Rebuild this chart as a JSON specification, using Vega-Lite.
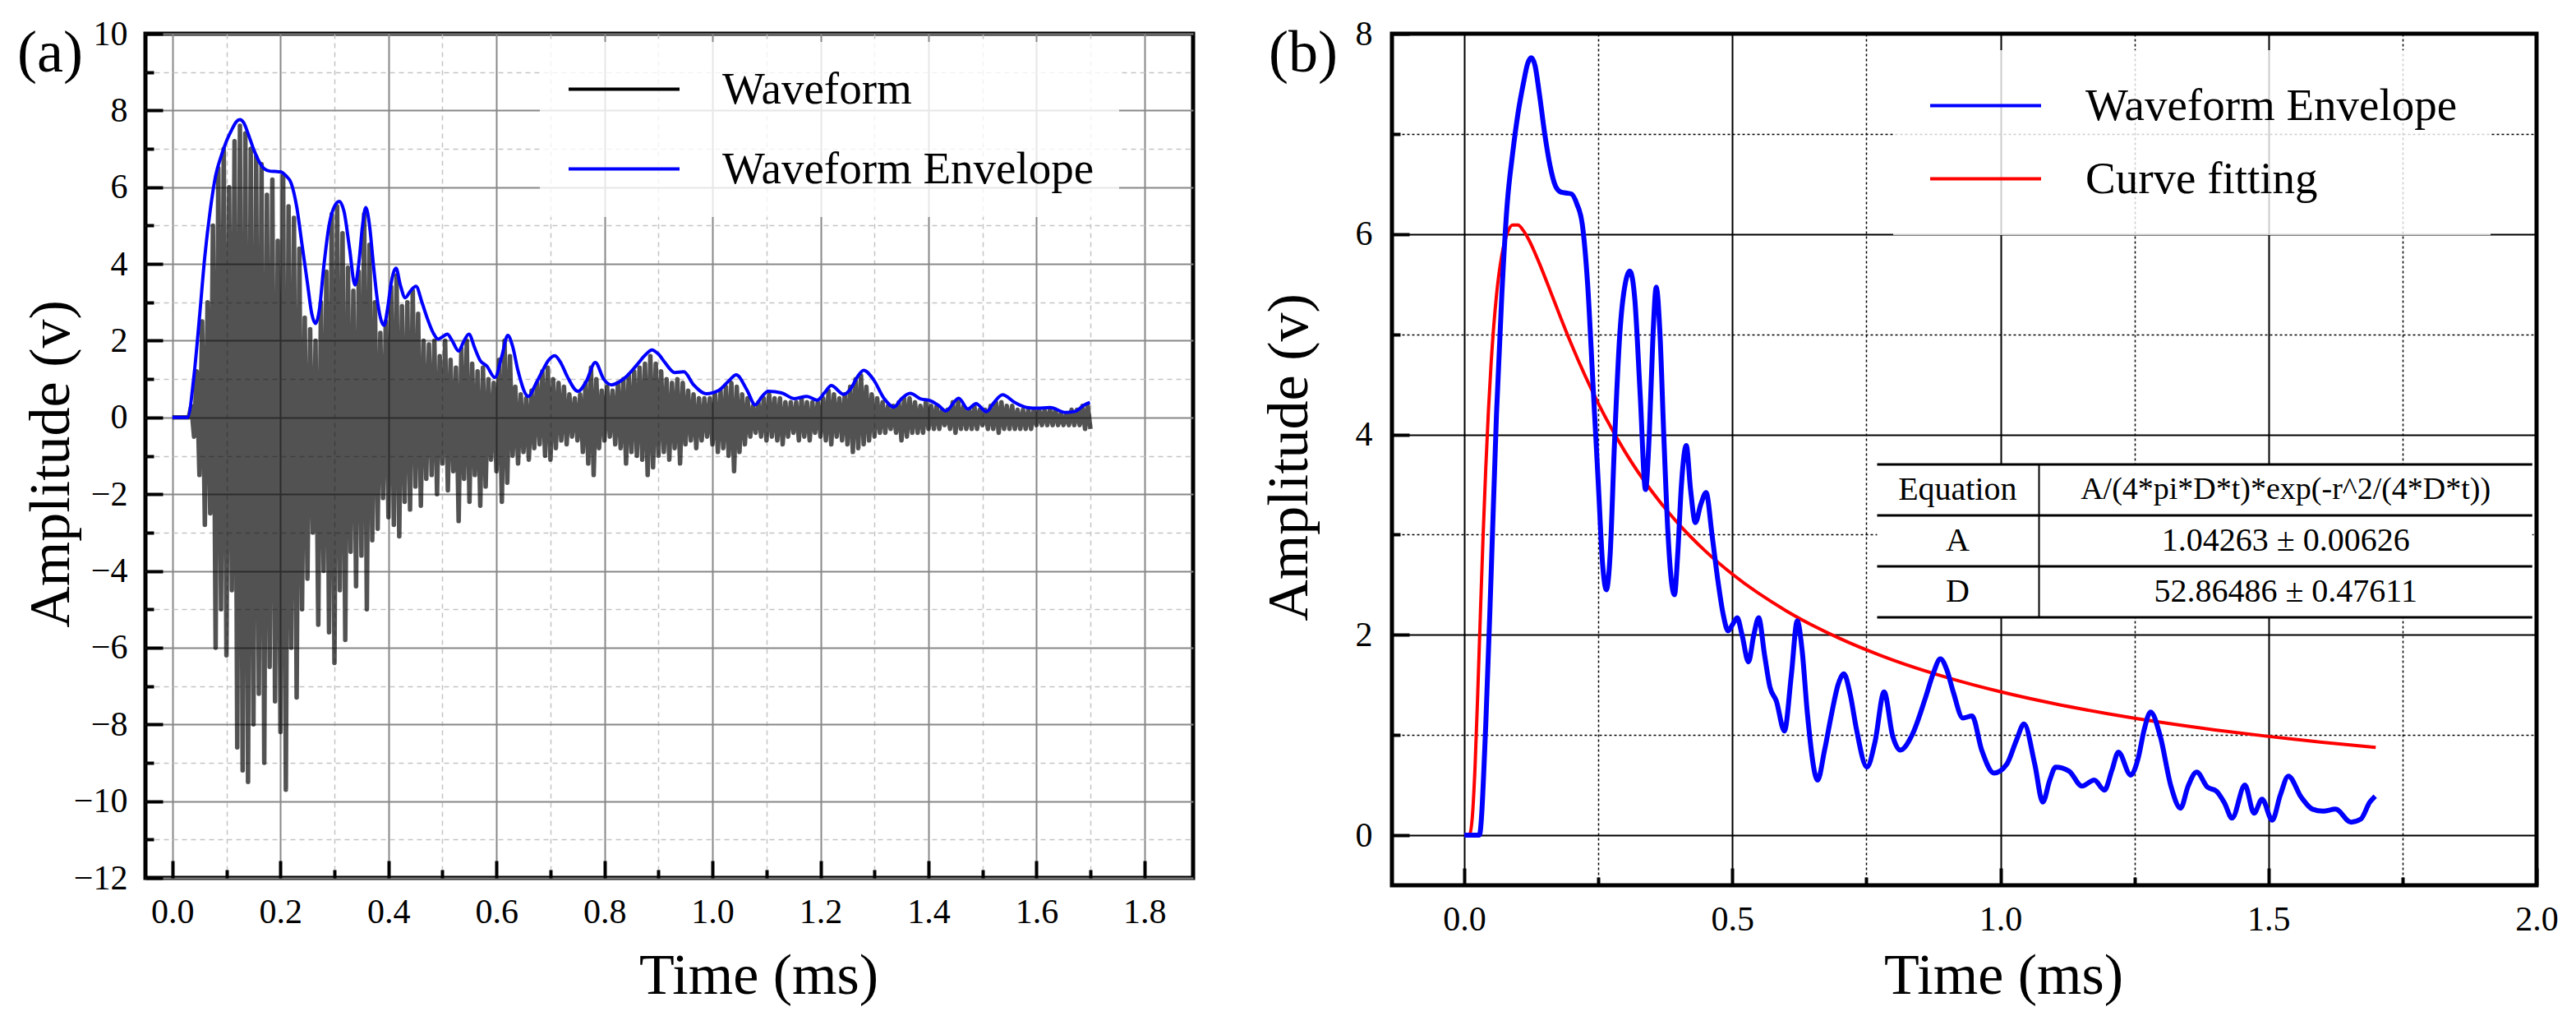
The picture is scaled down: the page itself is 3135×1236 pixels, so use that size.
{
"$schema": "https://vega.github.io/schema/vega-lite/v6.json",
"background": "white",
"padding": {"left": 18, "top": 17, "right": 20, "bottom": 20},
"config": {
  "view": {"stroke": "black", "strokeWidth": 5},
  "font": "Liberation Serif",
  "axis": {"labelFont": "Liberation Serif", "titleFont": "Liberation Serif", "labelColor": "black", "titleColor": "black", "titleFontWeight": "normal", "labelFlush": false, "labelOverlap": false, "domain": false, "tickColor": "black"},
  "legend": {"labelFont": "Liberation Serif", "labelColor": "black", "labelLimit": 0},
  "title": {"font": "Liberation Serif"}
},
"datasets": {
"wave": [
{"t":0,"v":0},{"t":0.03,"v":0},{"t":0.035,"v":0.3},{"t":0.04,"v":-0.5},{"t":0.045,"v":1.2},{"t":0.05,"v":-1.5},{"t":0.055,"v":2.5},{"t":0.06,"v":-2.8},{"t":0.065,"v":3.0},{"t":0.07,"v":-2.5},{"t":0.075,"v":5.0},{"t":0.08,"v":-6.0},{"t":0.085,"v":6.5},{"t":0.09,"v":-5.0},{"t":0.095,"v":7.0},{"t":0.1,"v":-6.2},{"t":0.105,"v":6.0},{"t":0.11,"v":-4.5},{"t":0.115,"v":7.2},{"t":0.12,"v":-8.6},{"t":0.125,"v":7.6},{"t":0.13,"v":-9.2},{"t":0.135,"v":7.4},{"t":0.14,"v":-9.5},{"t":0.145,"v":7.0},{"t":0.15,"v":-8.0},{"t":0.155,"v":6.8},{"t":0.16,"v":-7.2},{"t":0.165,"v":6.6},{"t":0.17,"v":-9.0},{"t":0.175,"v":5.8},{"t":0.18,"v":-6.5},{"t":0.185,"v":6.2},{"t":0.19,"v":-7.4},{"t":0.195,"v":4.6},{"t":0.2,"v":-8.2},{"t":0.205,"v":6.3},{"t":0.21,"v":-9.7},{"t":0.215,"v":5.5},{"t":0.22,"v":-6.0},{"t":0.225,"v":5.2},{"t":0.23,"v":-7.3},{"t":0.235,"v":4.4},{"t":0.24,"v":-5.0},{"t":0.245,"v":2.6},{"t":0.25,"v":-4.2},{"t":0.255,"v":2.3},{"t":0.26,"v":-3.0},{"t":0.265,"v":2.0},{"t":0.27,"v":-5.4},{"t":0.275,"v":3.0},{"t":0.28,"v":-4.0},{"t":0.285,"v":3.8},{"t":0.29,"v":-5.6},{"t":0.295,"v":5.3},{"t":0.3,"v":-6.4},{"t":0.305,"v":5.5},{"t":0.31,"v":-4.5},{"t":0.315,"v":4.8},{"t":0.32,"v":-5.8},{"t":0.325,"v":3.9},{"t":0.33,"v":-3.5},{"t":0.335,"v":3.3},{"t":0.34,"v":-4.4},{"t":0.345,"v":3.8},{"t":0.35,"v":-3.6},{"t":0.355,"v":5.3},{"t":0.36,"v":-5.0},{"t":0.365,"v":4.5},{"t":0.37,"v":-3.2},{"t":0.375,"v":3.0},{"t":0.38,"v":-2.9},{"t":0.385,"v":2.2},{"t":0.39,"v":-2.1},{"t":0.395,"v":2.5},{"t":0.4,"v":-2.6},{"t":0.405,"v":3.4},{"t":0.41,"v":-2.8},{"t":0.415,"v":3.7},{"t":0.42,"v":-3.1},{"t":0.425,"v":2.9},{"t":0.43,"v":-2.2},{"t":0.435,"v":3.0},{"t":0.44,"v":-2.4},{"t":0.445,"v":3.3},{"t":0.45,"v":-1.8},{"t":0.455,"v":2.7},{"t":0.46,"v":-2.3},{"t":0.465,"v":2.0},{"t":0.47,"v":-1.6},{"t":0.475,"v":1.9},{"t":0.48,"v":-1.5},{"t":0.485,"v":2.0},{"t":0.49,"v":-2.0},{"t":0.495,"v":1.6},{"t":0.5,"v":-1.2},
{"t":0.505,"v":2.0},{"t":0.51,"v":-1.9},{"t":0.515,"v":1.5},{"t":0.52,"v":-1.4},{"t":0.525,"v":1.3},{"t":0.53,"v":-2.7},{"t":0.535,"v":1.8},{"t":0.54,"v":-1.6},{"t":0.545,"v":2.0},{"t":0.55,"v":-2.2},{"t":0.555,"v":1.4},{"t":0.56,"v":-1.5},{"t":0.565,"v":1.2},{"t":0.57,"v":-2.3},{"t":0.575,"v":1.3},{"t":0.58,"v":-1.8},{"t":0.585,"v":1.0},{"t":0.59,"v":-1.1},{"t":0.595,"v":0.9},{"t":0.6,"v":-1.4},{"t":0.605,"v":1.5},{"t":0.61,"v":-2.2},{"t":0.615,"v":2.0},{"t":0.62,"v":-1.7},{"t":0.625,"v":1.6},{"t":0.63,"v":-1.0},{"t":0.635,"v":0.8},{"t":0.64,"v":-1.2},{"t":0.645,"v":0.6},{"t":0.65,"v":-0.9},{"t":0.655,"v":0.5},{"t":0.66,"v":-1.1},{"t":0.665,"v":0.7},{"t":0.67,"v":-0.8},{"t":0.675,"v":0.9},{"t":0.68,"v":-0.7},{"t":0.685,"v":1.2},{"t":0.69,"v":-1.0},{"t":0.695,"v":1.3},{"t":0.7,"v":-1.1},{"t":0.705,"v":1.0},{"t":0.71,"v":-0.8},{"t":0.715,"v":0.9},{"t":0.72,"v":-0.6},{"t":0.725,"v":0.8},{"t":0.73,"v":-0.7},{"t":0.735,"v":0.6},{"t":0.74,"v":-0.5},{"t":0.745,"v":0.5},{"t":0.75,"v":-0.6},{"t":0.755,"v":0.6},{"t":0.76,"v":-0.9},{"t":0.765,"v":0.9},{"t":0.77,"v":-1.2},{"t":0.775,"v":1.3},{"t":0.78,"v":-1.5},{"t":0.785,"v":1.0},{"t":0.79,"v":-0.8},{"t":0.795,"v":0.7},{"t":0.8,"v":-0.6},{"t":0.805,"v":0.8},{"t":0.81,"v":-0.5},{"t":0.815,"v":0.7},{"t":0.82,"v":-0.7},{"t":0.825,"v":0.9},{"t":0.83,"v":-0.8},{"t":0.835,"v":1.0},{"t":0.84,"v":-1.2},{"t":0.845,"v":1.1},{"t":0.85,"v":-0.9},{"t":0.855,"v":1.2},{"t":0.86,"v":-1.0},{"t":0.865,"v":1.3},{"t":0.87,"v":-1.1},{"t":0.875,"v":1.4},{"t":0.88,"v":-1.5},{"t":0.885,"v":1.6},{"t":0.89,"v":-1.3},{"t":0.895,"v":1.4},{"t":0.9,"v":-1.0},{"t":0.905,"v":1.2},{"t":0.91,"v":-0.9},{"t":0.915,"v":1.0},{"t":0.92,"v":-1.1},{"t":0.925,"v":0.9},{"t":0.93,"v":-0.8},{"t":0.935,"v":1.0},{"t":0.94,"v":-1.2},{"t":0.945,"v":0.9},{"t":0.95,"v":-0.7},{"t":0.955,"v":0.7},{"t":0.96,"v":-0.6},{"t":0.965,"v":0.6},{"t":0.97,"v":-0.8},{"t":0.975,"v":0.5},{"t":0.98,"v":-0.6},{"t":0.985,"v":0.5},{"t":0.99,"v":-0.5},{"t":0.995,"v":0.5},{"t":1.0,"v":-0.7},
{"t":1.005,"v":0.6},{"t":1.01,"v":-0.9},{"t":1.015,"v":0.7},{"t":1.02,"v":-0.8},{"t":1.025,"v":0.8},{"t":1.03,"v":-1.0},{"t":1.035,"v":0.9},{"t":1.04,"v":-1.4},{"t":1.045,"v":0.8},{"t":1.05,"v":-0.9},{"t":1.055,"v":0.6},{"t":1.06,"v":-0.7},{"t":1.065,"v":0.5},{"t":1.07,"v":-0.5},{"t":1.075,"v":0.3},{"t":1.08,"v":-0.4},{"t":1.085,"v":0.4},{"t":1.09,"v":-0.5},{"t":1.095,"v":0.5},{"t":1.1,"v":-0.6},{"t":1.105,"v":0.6},{"t":1.11,"v":-0.5},{"t":1.115,"v":0.5},{"t":1.12,"v":-0.6},{"t":1.125,"v":0.5},{"t":1.13,"v":-0.7},{"t":1.135,"v":0.4},{"t":1.14,"v":-0.5},{"t":1.145,"v":0.4},{"t":1.15,"v":-0.4},{"t":1.155,"v":0.4},{"t":1.16,"v":-0.6},{"t":1.165,"v":0.5},{"t":1.17,"v":-0.5},{"t":1.175,"v":0.4},{"t":1.18,"v":-0.6},{"t":1.185,"v":0.4},{"t":1.19,"v":-0.4},{"t":1.195,"v":0.4},{"t":1.2,"v":-0.5},{"t":1.205,"v":0.5},{"t":1.21,"v":-0.6},{"t":1.215,"v":0.7},{"t":1.22,"v":-0.7},{"t":1.225,"v":0.6},{"t":1.23,"v":-0.5},{"t":1.235,"v":0.5},{"t":1.24,"v":-0.6},{"t":1.245,"v":0.6},{"t":1.25,"v":-0.7},{"t":1.255,"v":0.8},{"t":1.26,"v":-0.9},{"t":1.265,"v":1.0},{"t":1.27,"v":-0.8},{"t":1.275,"v":1.1},{"t":1.28,"v":-0.7},{"t":1.285,"v":0.8},{"t":1.29,"v":-0.6},{"t":1.295,"v":0.6},{"t":1.3,"v":-0.5},{"t":1.305,"v":0.5},{"t":1.31,"v":-0.4},{"t":1.315,"v":0.4},{"t":1.32,"v":-0.4},{"t":1.325,"v":0.3},{"t":1.33,"v":-0.3},{"t":1.335,"v":0.3},{"t":1.34,"v":-0.4},{"t":1.345,"v":0.4},{"t":1.35,"v":-0.6},{"t":1.355,"v":0.5},{"t":1.36,"v":-0.5},{"t":1.365,"v":0.5},{"t":1.37,"v":-0.4},{"t":1.375,"v":0.4},{"t":1.38,"v":-0.4},{"t":1.385,"v":0.3},{"t":1.39,"v":-0.4},{"t":1.395,"v":0.4},{"t":1.4,"v":-0.3},{"t":1.405,"v":0.3},{"t":1.41,"v":-0.3},{"t":1.415,"v":0.3},{"t":1.42,"v":-0.3},{"t":1.425,"v":0.2},{"t":1.43,"v":-0.2},{"t":1.435,"v":0.2},{"t":1.44,"v":-0.3},{"t":1.445,"v":0.4},{"t":1.45,"v":-0.4},{"t":1.455,"v":0.4},{"t":1.46,"v":-0.3},{"t":1.465,"v":0.3},{"t":1.47,"v":-0.3},{"t":1.475,"v":0.2},{"t":1.48,"v":-0.3},{"t":1.485,"v":0.3},{"t":1.49,"v":-0.3},{"t":1.495,"v":0.2},{"t":1.5,"v":-0.2},{"t":1.505,"v":0.2},{"t":1.51,"v":-0.3},{"t":1.515,"v":0.3},{"t":1.52,"v":-0.3},{"t":1.525,"v":0.4},{"t":1.53,"v":-0.4},{"t":1.535,"v":0.4},{"t":1.54,"v":-0.3},{"t":1.545,"v":0.3},{"t":1.55,"v":-0.3},{"t":1.555,"v":0.3},{"t":1.56,"v":-0.3},{"t":1.565,"v":0.2},{"t":1.57,"v":-0.3},{"t":1.575,"v":0.2},{"t":1.58,"v":-0.3},{"t":1.585,"v":0.2},{"t":1.59,"v":-0.3},{"t":1.595,"v":0.2},{"t":1.6,"v":-0.2},{"t":1.605,"v":0.2},{"t":1.61,"v":-0.2},{"t":1.615,"v":0.2},{"t":1.62,"v":-0.2},{"t":1.625,"v":0.2},{"t":1.63,"v":-0.2},{"t":1.635,"v":0.2},{"t":1.64,"v":-0.2},{"t":1.645,"v":0.1},{"t":1.65,"v":-0.2},{"t":1.655,"v":0.1},{"t":1.66,"v":-0.2},{"t":1.665,"v":0.2},{"t":1.67,"v":-0.2},{"t":1.675,"v":0.2},{"t":1.68,"v":-0.2},{"t":1.685,"v":0.3},{"t":1.69,"v":-0.3},{"t":1.695,"v":0.3},{"t":1.7,"v":-0.3}
],
"env": [
{"t":0,"v":0},{"t":0.028,"v":0},{"t":0.04,"v":1.1},{"t":0.05,"v":2.6},{"t":0.06,"v":4.2},{"t":0.07,"v":5.4},{"t":0.08,"v":6.3},{"t":0.09,"v":6.8},{"t":0.1,"v":7.2},{"t":0.11,"v":7.5},{"t":0.118,"v":7.7},{"t":0.125,"v":7.76},{"t":0.132,"v":7.68},{"t":0.14,"v":7.4},{"t":0.15,"v":7.0},{"t":0.16,"v":6.68},{"t":0.17,"v":6.48},{"t":0.18,"v":6.42},{"t":0.19,"v":6.41},{"t":0.2,"v":6.4},{"t":0.21,"v":6.3},{"t":0.22,"v":6.1},{"t":0.23,"v":5.5},{"t":0.24,"v":4.5},{"t":0.25,"v":3.5},{"t":0.258,"v":2.7},{"t":0.265,"v":2.45},{"t":0.272,"v":2.8},{"t":0.28,"v":3.9},{"t":0.29,"v":5.0},{"t":0.3,"v":5.5},{"t":0.309,"v":5.63},{"t":0.318,"v":5.35},{"t":0.328,"v":4.4},{"t":0.338,"v":3.45},{"t":0.345,"v":4.0},{"t":0.352,"v":5.0},{"t":0.358,"v":5.47},{"t":0.365,"v":5.0},{"t":0.372,"v":4.0},{"t":0.38,"v":3.0},{"t":0.386,"v":2.55},{"t":0.392,"v":2.4},{"t":0.398,"v":2.8},{"t":0.405,"v":3.5},{"t":0.414,"v":3.89},{"t":0.422,"v":3.45},{"t":0.431,"v":3.12},{"t":0.441,"v":3.3},{"t":0.451,"v":3.42},{"t":0.462,"v":3.0},{"t":0.472,"v":2.58},{"t":0.483,"v":2.2},{"t":0.492,"v":2.04},{"t":0.5,"v":2.1},{"t":0.509,"v":2.17},{"t":0.518,"v":2.0},{"t":0.53,"v":1.73},{"t":0.54,"v":2.0},{"t":0.549,"v":2.17},{"t":0.56,"v":1.8},{"t":0.57,"v":1.48},{"t":0.582,"v":1.34},{"t":0.597,"v":1.04},{"t":0.61,"v":1.6},{"t":0.621,"v":2.14},{"t":0.63,"v":1.85},{"t":0.64,"v":1.21},{"t":0.659,"v":0.55},{"t":0.672,"v":0.85},{"t":0.685,"v":1.21},{"t":0.697,"v":1.5},{"t":0.708,"v":1.61},{"t":0.72,"v":1.4},{"t":0.731,"v":1.07},{"t":0.751,"v":0.68},{"t":0.766,"v":0.93},{"t":0.783,"v":1.43},{"t":0.799,"v":0.99},{"t":0.813,"v":0.85},{"t":0.836,"v":1.01},{"t":0.86,"v":1.37},{"t":0.875,"v":1.62},{"t":0.888,"v":1.76},{"t":0.9,"v":1.65},{"t":0.912,"v":1.43},{"t":0.93,"v":1.17},{"t":0.947,"v":1.19},{"t":0.965,"v":0.85},{"t":0.988,"v":0.62},{"t":1.012,"v":0.71},{"t":1.03,"v":0.95},{"t":1.044,"v":1.11},{"t":1.064,"v":0.71},{"t":1.079,"v":0.33},{"t":1.092,"v":0.55},{"t":1.103,"v":0.68},{"t":1.128,"v":0.64},{"t":1.152,"v":0.49},{"t":1.175,"v":0.55},{"t":1.194,"v":0.45},{"t":1.208,"v":0.65},{"t":1.22,"v":0.83},{"t":1.243,"v":0.6},{"t":1.257,"v":0.77},{"t":1.268,"v":1.05},{"t":1.28,"v":1.23},{"t":1.298,"v":0.99},{"t":1.318,"v":0.49},{"t":1.336,"v":0.27},{"t":1.35,"v":0.49},{"t":1.366,"v":0.63},{"t":1.386,"v":0.48},{"t":1.403,"v":0.44},{"t":1.418,"v":0.32},{"t":1.432,"v":0.17},{"t":1.456,"v":0.5},{"t":1.473,"v":0.22},{"t":1.488,"v":0.36},{"t":1.507,"v":0.15},{"t":1.522,"v":0.4},{"t":1.537,"v":0.59},{"t":1.561,"v":0.38},{"t":1.582,"v":0.26},{"t":1.602,"v":0.24},{"t":1.625,"v":0.26},{"t":1.654,"v":0.13},{"t":1.672,"v":0.16},{"t":1.689,"v":0.33},{"t":1.699,"v":0.39}
],
"fit": [
{"t":0,"v":0},{"t":0.005,"v":0},{"t":0.01,"v":0.012},{"t":0.015,"v":0.187},{"t":0.02,"v":0.681},{"t":0.025,"v":1.409},{"t":0.03,"v":2.213},{"t":0.035,"v":2.982},{"t":0.04,"v":3.662},{"t":0.045,"v":4.239},{"t":0.05,"v":4.712},{"t":0.06,"v":5.389},{"t":0.07,"v":5.79},{"t":0.08,"v":6.005},{"t":0.09,"v":6.09},{"t":0.1,"v":6.09},{"t":0.11,"v":6.036},{"t":0.12,"v":5.947},{"t":0.14,"v":5.708},{"t":0.16,"v":5.437},{"t":0.18,"v":5.162},{"t":0.2,"v":4.897},{"t":0.25,"v":4.309},{"t":0.3,"v":3.825},{"t":0.35,"v":3.43},{"t":0.4,"v":3.105},{"t":0.45,"v":2.834},{"t":0.5,"v":2.605},{"t":0.6,"v":2.241},{"t":0.7,"v":1.964},{"t":0.8,"v":1.748},{"t":0.9,"v":1.575},{"t":1.0,"v":1.432},{"t":1.1,"v":1.313},{"t":1.2,"v":1.213},{"t":1.3,"v":1.126},{"t":1.4,"v":1.051},{"t":1.5,"v":0.986},{"t":1.6,"v":0.928},{"t":1.7,"v":0.876}
],
"table": [
{"param":"Equation","value":"A/(4*pi*D*t)*exp(-r^2/(4*D*t))"},
{"param":"A","value":"1.04263 ± 0.00626"},
{"param":"D","value":"52.86486 ± 0.47611"}
],
"one": [{}]
},
"bounds": "flush",
"spacing": 242,
"resolve": {"scale": {"color": "independent"}, "legend": {"color": "independent"}},
"hconcat": [
{
  "width": 1275, "height": 1027,
  "title": {"text": "(a)", "anchor": "start", "frame": "group", "orient": "none", "font": "Liberation Serif", "fontSize": 72, "fontWeight": "normal", "color": "black", "baseline": "alphabetic", "align": "left", "offset": 0, "dx": -156, "dy": 46},
  "resolve": {"axis": {"x": "independent", "y": "independent"}},
  "layer": [
    {
      "data": {"name": "wave"},
      "mark": {"type": "line", "strokeWidth": 5.5, "strokeOpacity": 0.68, "strokeJoin": "round"},
      "encoding": {
        "x": {"field": "t", "type": "quantitative", "scale": {"domain": [-0.05, 1.89], "nice": false, "zero": false},
              "axis": {"orient": "bottom", "values": [0.1,0.3,0.5,0.7,0.9,1.1,1.3,1.5,1.7], "title": null, "labels": false, "grid": true, "gridColor": "#c4c4c4", "gridDash": [6,5], "gridWidth": 1.5, "tickSize": -10, "tickWidth": 4}},
        "y": {"field": "v", "type": "quantitative", "scale": {"domain": [-12, 10], "nice": false, "zero": false},
              "axis": {"orient": "left", "values": [-11,-9,-7,-5,-3,-1,1,3,5,7,9], "title": null, "labels": false, "grid": true, "gridColor": "#c4c4c4", "gridDash": [6,5], "gridWidth": 1.5, "tickSize": -10, "tickWidth": 4}},
        "color": {"datum": "Waveform", "type": "nominal",
                  "scale": {"domain": ["Waveform", "Waveform Envelope"], "range": ["#000000", "#0000ff"]},
                  "legend": {"orient": "none", "legendX": 480, "legendY": 10, "title": null, "symbolType": "M-3,0L3,0", "symbolSize": 2025, "symbolStrokeWidth": 4, "symbolOpacity": 1, "symbolOffset": 45, "labelOffset": 92, "labelFont": "Liberation Serif", "labelFontSize": 55, "rowPadding": 41, "padding": 30, "fillColor": "rgba(255,255,255,0.8)"}}
      }
    },
    {
      "data": {"name": "env"},
      "mark": {"type": "line", "strokeWidth": 4, "interpolate": "monotone"},
      "encoding": {
        "x": {"field": "t", "type": "quantitative",
              "axis": {"orient": "bottom", "values": [0,0.2,0.4,0.6,0.8,1,1.2,1.4,1.6,1.8], "format": ".1f", "title": "Time (ms)", "grid": true, "gridColor": "#888888", "gridWidth": 2, "tickSize": -21, "tickWidth": 4, "labelFont": "Liberation Serif", "labelFontSize": 42, "labelPadding": 42, "titleFont": "Liberation Serif", "titleFontSize": 70, "titleX": 746, "titleY": 140, "titleAlign": "center", "titleBaseline": "alphabetic", "titleAnchor": null}},
        "y": {"field": "v", "type": "quantitative",
              "axis": {"orient": "left", "values": [-12,-10,-8,-6,-4,-2,0,2,4,6,8,10], "format": "d", "title": "Amplitude (v)", "grid": true, "gridColor": "#888888", "gridWidth": 2, "tickSize": -21, "tickWidth": 4, "labelFont": "Liberation Serif", "labelFontSize": 42, "labelPadding": 43, "titleFont": "Liberation Serif", "titleFontSize": 70, "titleX": -94, "titleY": 523, "titleAngle": 270, "titleAlign": "center", "titleBaseline": "alphabetic", "titleAnchor": null}},
        "color": {"datum": "Waveform Envelope", "type": "nominal"}
      }
    }
  ]
},
{
  "width": 1393, "height": 1036,
  "title": {"text": "(b)", "anchor": "start", "frame": "group", "orient": "none", "font": "Liberation Serif", "fontSize": 72, "fontWeight": "normal", "color": "black", "baseline": "alphabetic", "align": "left", "offset": 0, "dx": -150, "dy": 46},
  "resolve": {"axis": {"x": "independent", "y": "independent"}},
  "layer": [
    {
      "data": {"name": "fit"},
      "mark": {"type": "line", "strokeWidth": 4, "interpolate": "monotone"},
      "encoding": {
        "x": {"field": "t", "type": "quantitative", "scale": {"domain": [-0.135, 2.0], "nice": false, "zero": false},
              "axis": {"orient": "bottom", "values": [0.25,0.75,1.25,1.75], "title": null, "labels": false, "grid": true, "gridColor": "black", "gridDash": [3,3], "gridWidth": 1.5, "tickSize": -10, "tickWidth": 4}},
        "y": {"field": "v", "type": "quantitative", "scale": {"domain": [-0.5, 8], "nice": false, "zero": false},
              "axis": {"orient": "left", "values": [1,3,5,7], "title": null, "labels": false, "grid": true, "gridColor": "black", "gridDash": [3,3], "gridWidth": 1.5, "tickSize": -10, "tickWidth": 4}},
        "color": {"datum": "Curve fitting", "type": "nominal",
                  "scale": {"domain": ["Waveform Envelope", "Curve fitting"], "range": ["#0000ff", "#ff0000"]},
                  "legend": {"orient": "none", "legendX": 610, "legendY": 20, "title": null, "symbolType": "M-3,0L3,0", "symbolSize": 2025, "symbolStrokeWidth": 4, "symbolOpacity": 1, "symbolOffset": 45, "labelOffset": 94, "labelFont": "Liberation Serif", "labelFontSize": 55, "rowPadding": 33, "padding": 40, "fillColor": "rgba(255,255,255,0.8)"}}
      }
    },
    {
      "data": {"name": "env"},
      "mark": {"type": "line", "strokeWidth": 6, "interpolate": "monotone"},
      "encoding": {
        "x": {"field": "t", "type": "quantitative",
              "axis": {"orient": "bottom", "values": [0,0.5,1,1.5,2], "format": ".1f", "title": "Time (ms)", "grid": true, "gridColor": "black", "gridWidth": 2, "tickSize": -21, "tickWidth": 4, "labelFont": "Liberation Serif", "labelFontSize": 42, "labelPadding": 42, "titleFont": "Liberation Serif", "titleFontSize": 70, "titleX": 744, "titleY": 131, "titleAlign": "center", "titleBaseline": "alphabetic", "titleAnchor": null}},
        "y": {"field": "v", "type": "quantitative",
              "axis": {"orient": "left", "values": [0,2,4,6,8], "format": "d", "title": "Amplitude (v)", "grid": true, "gridColor": "black", "gridWidth": 2, "tickSize": -21, "tickWidth": 4, "labelFont": "Liberation Serif", "labelFontSize": 42, "labelPadding": 45, "titleFont": "Liberation Serif", "titleFontSize": 70, "titleX": -104, "titleY": 515, "titleAngle": 270, "titleAlign": "center", "titleBaseline": "alphabetic", "titleAnchor": null}},
        "color": {"datum": "Waveform Envelope", "type": "nominal"}
      }
    },
    {
      "data": {"name": "one"},
      "mark": {"type": "rect", "fill": "white"},
      "encoding": {"x": {"datum": 0.77, "type": "quantitative", "axis": null}, "x2": {"datum": 1.992}, "y": {"datum": 2.175, "type": "quantitative", "axis": null}, "y2": {"datum": 3.701}}
    },
    {
      "data": {"name": "one"},
      "mark": {"type": "rule", "color": "black", "strokeWidth": 3},
      "encoding": {"x": {"datum": 0.77, "type": "quantitative", "axis": null}, "x2": {"datum": 1.992}, "y": {"datum": 3.701, "type": "quantitative", "axis": null}}
    },
    {
      "data": {"name": "one"},
      "mark": {"type": "rule", "color": "black", "strokeWidth": 3},
      "encoding": {"x": {"datum": 0.77, "type": "quantitative", "axis": null}, "x2": {"datum": 1.992}, "y": {"datum": 3.193, "type": "quantitative", "axis": null}}
    },
    {
      "data": {"name": "one"},
      "mark": {"type": "rule", "color": "black", "strokeWidth": 3},
      "encoding": {"x": {"datum": 0.77, "type": "quantitative", "axis": null}, "x2": {"datum": 1.992}, "y": {"datum": 2.684, "type": "quantitative", "axis": null}}
    },
    {
      "data": {"name": "one"},
      "mark": {"type": "rule", "color": "black", "strokeWidth": 3},
      "encoding": {"x": {"datum": 0.77, "type": "quantitative", "axis": null}, "x2": {"datum": 1.992}, "y": {"datum": 2.175, "type": "quantitative", "axis": null}}
    },
    {
      "data": {"name": "one"},
      "mark": {"type": "rule", "color": "black", "strokeWidth": 2},
      "encoding": {"x": {"datum": 1.072, "type": "quantitative", "axis": null}, "y": {"datum": 2.175, "type": "quantitative", "axis": null}, "y2": {"datum": 3.701}}
    },
    {
      "data": {"name": "table"},
      "transform": [{"filter": "datum.param === 'Equation'"}],
      "mark": {"type": "text", "font": "Liberation Serif", "fontSize": 40, "align": "center", "baseline": "middle", "color": "black"},
      "encoding": {"x": {"datum": 0.92, "type": "quantitative", "axis": null}, "y": {"datum": 3.447, "type": "quantitative", "axis": null}, "text": {"field": "param"}}
    },
    {
      "data": {"name": "table"},
      "transform": [{"filter": "datum.param === 'Equation'"}],
      "mark": {"type": "text", "font": "Liberation Serif", "fontSize": 38, "align": "center", "baseline": "middle", "color": "black"},
      "encoding": {"x": {"datum": 1.532, "type": "quantitative", "axis": null}, "y": {"datum": 3.447, "type": "quantitative", "axis": null}, "text": {"field": "value"}}
    },
    {
      "data": {"name": "table"},
      "transform": [{"filter": "datum.param === 'A'"}],
      "mark": {"type": "text", "font": "Liberation Serif", "fontSize": 40, "align": "center", "baseline": "middle", "color": "black"},
      "encoding": {"x": {"datum": 0.92, "type": "quantitative", "axis": null}, "y": {"datum": 2.938, "type": "quantitative", "axis": null}, "text": {"field": "param"}}
    },
    {
      "data": {"name": "table"},
      "transform": [{"filter": "datum.param === 'A'"}],
      "mark": {"type": "text", "font": "Liberation Serif", "fontSize": 40, "align": "center", "baseline": "middle", "color": "black"},
      "encoding": {"x": {"datum": 1.532, "type": "quantitative", "axis": null}, "y": {"datum": 2.938, "type": "quantitative", "axis": null}, "text": {"field": "value"}}
    },
    {
      "data": {"name": "table"},
      "transform": [{"filter": "datum.param === 'D'"}],
      "mark": {"type": "text", "font": "Liberation Serif", "fontSize": 40, "align": "center", "baseline": "middle", "color": "black"},
      "encoding": {"x": {"datum": 0.92, "type": "quantitative", "axis": null}, "y": {"datum": 2.429, "type": "quantitative", "axis": null}, "text": {"field": "param"}}
    },
    {
      "data": {"name": "table"},
      "transform": [{"filter": "datum.param === 'D'"}],
      "mark": {"type": "text", "font": "Liberation Serif", "fontSize": 40, "align": "center", "baseline": "middle", "color": "black"},
      "encoding": {"x": {"datum": 1.532, "type": "quantitative", "axis": null}, "y": {"datum": 2.429, "type": "quantitative", "axis": null}, "text": {"field": "value"}}
    }
  ]
}
]
}
